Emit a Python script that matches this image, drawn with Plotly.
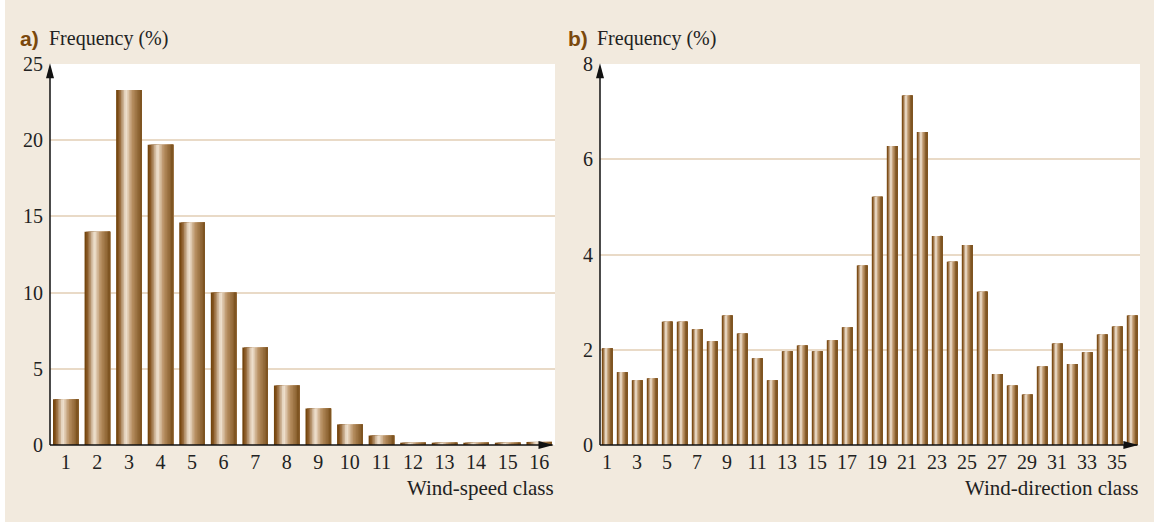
import plotly.graph_objects as go

# ---------------- data ----------------
speed_classes = list(range(1, 17))
speed_freq = [3.0, 14.0, 23.3, 19.7, 14.6, 10.0, 6.4, 3.9, 2.4, 1.35, 0.62, 0.15, 0.15, 0.15, 0.15, 0.2]

dir_classes = list(range(1, 37))
dir_freq = [2.03, 1.53, 1.36, 1.40, 2.59, 2.59, 2.43, 2.18, 2.72, 2.34, 1.82, 1.36,
            1.97, 2.09, 1.97, 2.20, 2.47, 3.77, 5.21, 6.28, 7.34, 6.57, 4.39, 3.85,
            4.20, 3.22, 1.49, 1.25, 1.06, 1.65, 2.13, 1.70, 1.95, 2.32, 2.49, 2.72]

speed_xticks = list(range(1, 17))
dir_xticks = list(range(1, 36, 2))
speed_yticks = [0, 5, 10, 15, 20, 25]
dir_yticks = [0, 2, 4, 6, 8]

# ---------------- style ----------------
W, H = 1154, 522
BG = "rgb(242,234,222)"
GRID = "rgb(233,218,199)"
SERIF = "Liberation Serif"
LABEL_BROWN = "rgb(122,72,12)"

stops = [(0.0, (108, 62, 6)), (0.12, (140, 92, 40)), (0.38, (243, 231, 216)),
         (0.62, (185, 145, 100)), (1.0, (122, 80, 28))]


def grad(t):
    for (t0, c0), (t1, c1) in zip(stops[:-1], stops[1:]):
        if t0 <= t <= t1:
            f = (t - t0) / (t1 - t0) if t1 > t0 else 0
            return "rgb(%d,%d,%d)" % tuple(round(a + (b - a) * f) for a, b in zip(c0, c1))
    return "rgb(%d,%d,%d)" % stops[-1][1]


def px(x):
    return x / W


def py(y):
    return 1 - y / H


fig = go.Figure()
N = 16


def add_bars(xs, ys, width, xa, ya):
    step = width / N
    for i in range(N):
        left = -width / 2 + i * step
        fig.add_trace(go.Bar(
            x=xs, y=ys, xaxis=xa, yaxis=ya,
            width=[width - i * step] * len(xs), offset=[left] * len(xs),
            marker=dict(color=grad((i + 0.5) / N), line=dict(width=0)),
            showlegend=False, hoverinfo="skip"))


add_bars(speed_classes, speed_freq, 0.81, "x", "y")
add_bars(dir_classes, dir_freq, 0.70, "x2", "y2")

tickfont = dict(family=SERIF, size=20, color="#222")
ydom = [py(445), py(64)]

common_x = dict(showgrid=False, zeroline=False, showline=False, ticks="", automargin=False,
                tickfont=tickfont, ticklabelstandoff=3)
common_y = dict(showgrid=True, gridcolor=GRID, gridwidth=2, zeroline=False, showline=False,
                ticks="", automargin=False, tickfont=tickfont, ticklabelstandoff=6)

fig.update_layout(
    width=W, height=H, margin=dict(l=0, r=0, t=0, b=0, autoexpand=False),
    paper_bgcolor=BG, plot_bgcolor="white", barmode="overlay",
    xaxis=dict(domain=[px(50), px(555)], range=[0.5, 16.5], tickvals=speed_xticks, anchor="y", **common_x),
    yaxis=dict(domain=ydom, range=[0, 25], tickvals=speed_yticks, anchor="x", **common_y),
    xaxis2=dict(domain=[px(600), px(1140)], range=[0.53, 36.53], tickvals=dir_xticks, anchor="y2", **common_x),
    yaxis2=dict(domain=ydom, range=[0, 8], tickvals=dir_yticks, anchor="x2", **common_y),
)

shapes = [dict(type="rect", xref="paper", yref="paper", x0=0, x1=px(5), y0=0, y1=1,
               fillcolor="white", line=dict(width=0), layer="below")]
for xa, ya in [("x", "y"), ("x2", "y2")]:
    xr, yr = xa + " domain", ya + " domain"
    line = dict(color="#111", width=1.5)
    shapes.append(dict(type="line", xref=xr, yref=yr, x0=0, x1=0.995, y0=0, y1=0, line=line, layer="above"))
    shapes.append(dict(type="line", xref=xr, yref=yr, x0=0, x1=0, y0=0, y1=0.99, line=line, layer="above"))
    shapes.append(dict(type="path", xref=xr, yref=yr, xsizemode="pixel", ysizemode="pixel",
                       xanchor=0.997, yanchor=0, path="M-15,-4 L0,0 L-15,4 Z",
                       fillcolor="#111", line=dict(width=0), layer="above"))
    shapes.append(dict(type="path", xref=xr, yref=yr, xsizemode="pixel", ysizemode="pixel",
                       xanchor=0, yanchor=1.002, path="M-4,-15 L0,0 L4,-15 Z",
                       fillcolor="#111", line=dict(width=0), layer="above"))
fig.update_layout(shapes=shapes)

ann = []
for xl, xt, letter in [(18, 47, "a)"), (566, 595, "b)")]:
    ann.append(dict(xref="paper", yref="paper", x=px(xl), y=py(39), xanchor="left", yanchor="middle",
                    text="<b>%s</b>" % letter, showarrow=False,
                    font=dict(family="Liberation Sans", size=21, color=LABEL_BROWN)))
    ann.append(dict(xref="paper", yref="paper", x=px(xt), y=py(39), xanchor="left", yanchor="middle",
                    text="Frequency (%)", showarrow=False,
                    font=dict(family=SERIF, size=20, color="#222")))
ann.append(dict(xref="paper", yref="paper", x=px(556), y=py(488), xanchor="right", yanchor="middle",
                text="Wind-speed class", showarrow=False, font=dict(family=SERIF, size=21, color="#222")))
ann.append(dict(xref="paper", yref="paper", x=px(1141), y=py(488), xanchor="right", yanchor="middle",
                text="Wind-direction class", showarrow=False, font=dict(family=SERIF, size=21, color="#222")))
fig.update_layout(annotations=ann)

fig.write_html("out.html", config={"displayModeBar": False},
               post_script="document.body.style.margin='0';document.body.style.overflow='hidden';")
